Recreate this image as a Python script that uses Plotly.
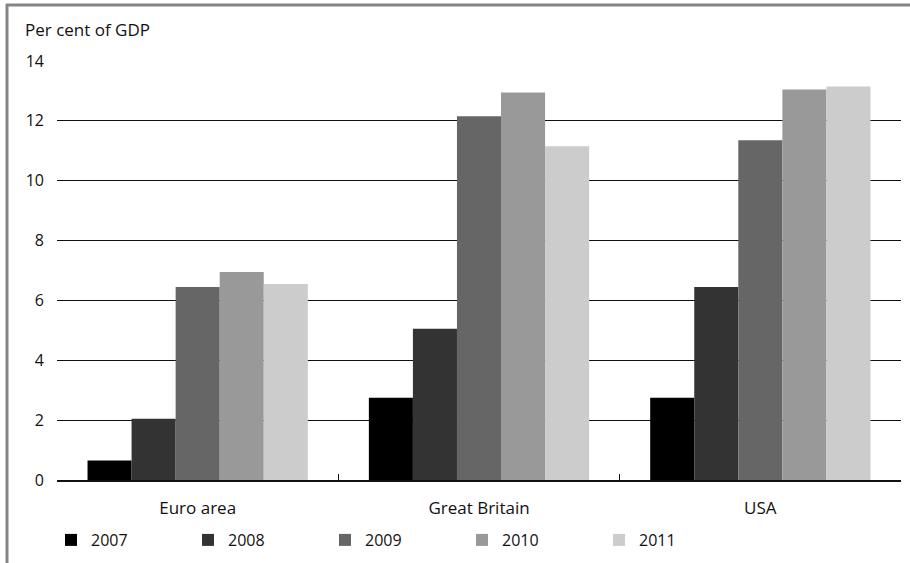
import plotly.graph_objects as go

categories = ["Euro area", "Great Britain", "USA"]
years = ["2007", "2008", "2009", "2010", "2011"]
values_2007 = [0.65, 2.75, 2.75]
values_2008 = [2.05, 5.05, 6.45]
values_2009 = [6.45, 12.15, 11.35]
values_2010 = [6.95, 12.95, 13.05]
values_2011 = [6.55, 11.15, 13.15]
series = [values_2007, values_2008, values_2009, values_2010, values_2011]
colors = ["#000000", "#333333", "#666666", "#999999", "#cccccc"]

W, H = 910, 563
L, R, T, B = 57, 9, 61, 83
pw, ph = W - L - R, H - T - B

def px_x(x):
    return (x - L) / pw

def px_y(y):
    return (H - B - y) / ph

FONT = "Open Sans, Noto Sans, sans-serif"
TXT = "#111111"

fig = go.Figure()
for name, vals, col in zip(years, series, colors):
    fig.add_trace(go.Bar(x=categories, y=vals, name=name, marker_color=col,
                         marker_line_width=0))

fig.update_layout(
    width=W, height=H,
    margin=dict(l=L, r=R, t=T, b=B, pad=0, autoexpand=False),
    paper_bgcolor="white", plot_bgcolor="white",
    barmode="group", bargap=0.217, bargroupgap=0,
    font=dict(family=FONT, size=16, color=TXT),
    showlegend=True,
    legend=dict(orientation="h", x=px_x(51), y=px_y(523), xanchor="left", yanchor="top",
                entrywidth=92, entrywidthmode="pixels", itemwidth=30,
                font=dict(family=FONT, size=16, color=TXT),
                bgcolor="rgba(0,0,0,0)", tracegroupgap=0),
    xaxis=dict(showgrid=False, showline=True, linecolor="#111", linewidth=1.5,
               ticks="inside", ticklen=6, tickwidth=1.2, tickcolor="#111",
               tickson="boundaries", ticklabelstandoff=12,
               tickfont=dict(family=FONT, size=17, color=TXT)),
    yaxis=dict(range=[0, 14], tickvals=[0, 2, 4, 6, 8, 10, 12, 14],
               showgrid=True, gridcolor="#111", gridwidth=1.3,
               zeroline=False, showline=False, ticks="", ticklabelstandoff=12,
               tickfont=dict(family=FONT, size=16, color=TXT)),
    annotations=[dict(text="Per cent of GDP", x=px_x(23), y=px_y(30), xref="paper", yref="paper",
                      xanchor="left", yanchor="middle", showarrow=False,
                      font=dict(family=FONT, size=17, color=TXT))],
    shapes=[
        dict(type="line", xref="paper", yref="paper", x0=px_x(6), x1=px_x(912), y0=px_y(5), y1=px_y(5),
             line=dict(color="#858585", width=3)),
        dict(type="line", xref="paper", yref="paper", x0=px_x(7), x1=px_x(7), y0=px_y(4), y1=px_y(565),
             line=dict(color="#858585", width=3)),
    ],
)

fig.write_html("out.html", config={"displayModeBar": False},
               post_script="document.body.style.margin='0';document.body.style.overflow='hidden';")
